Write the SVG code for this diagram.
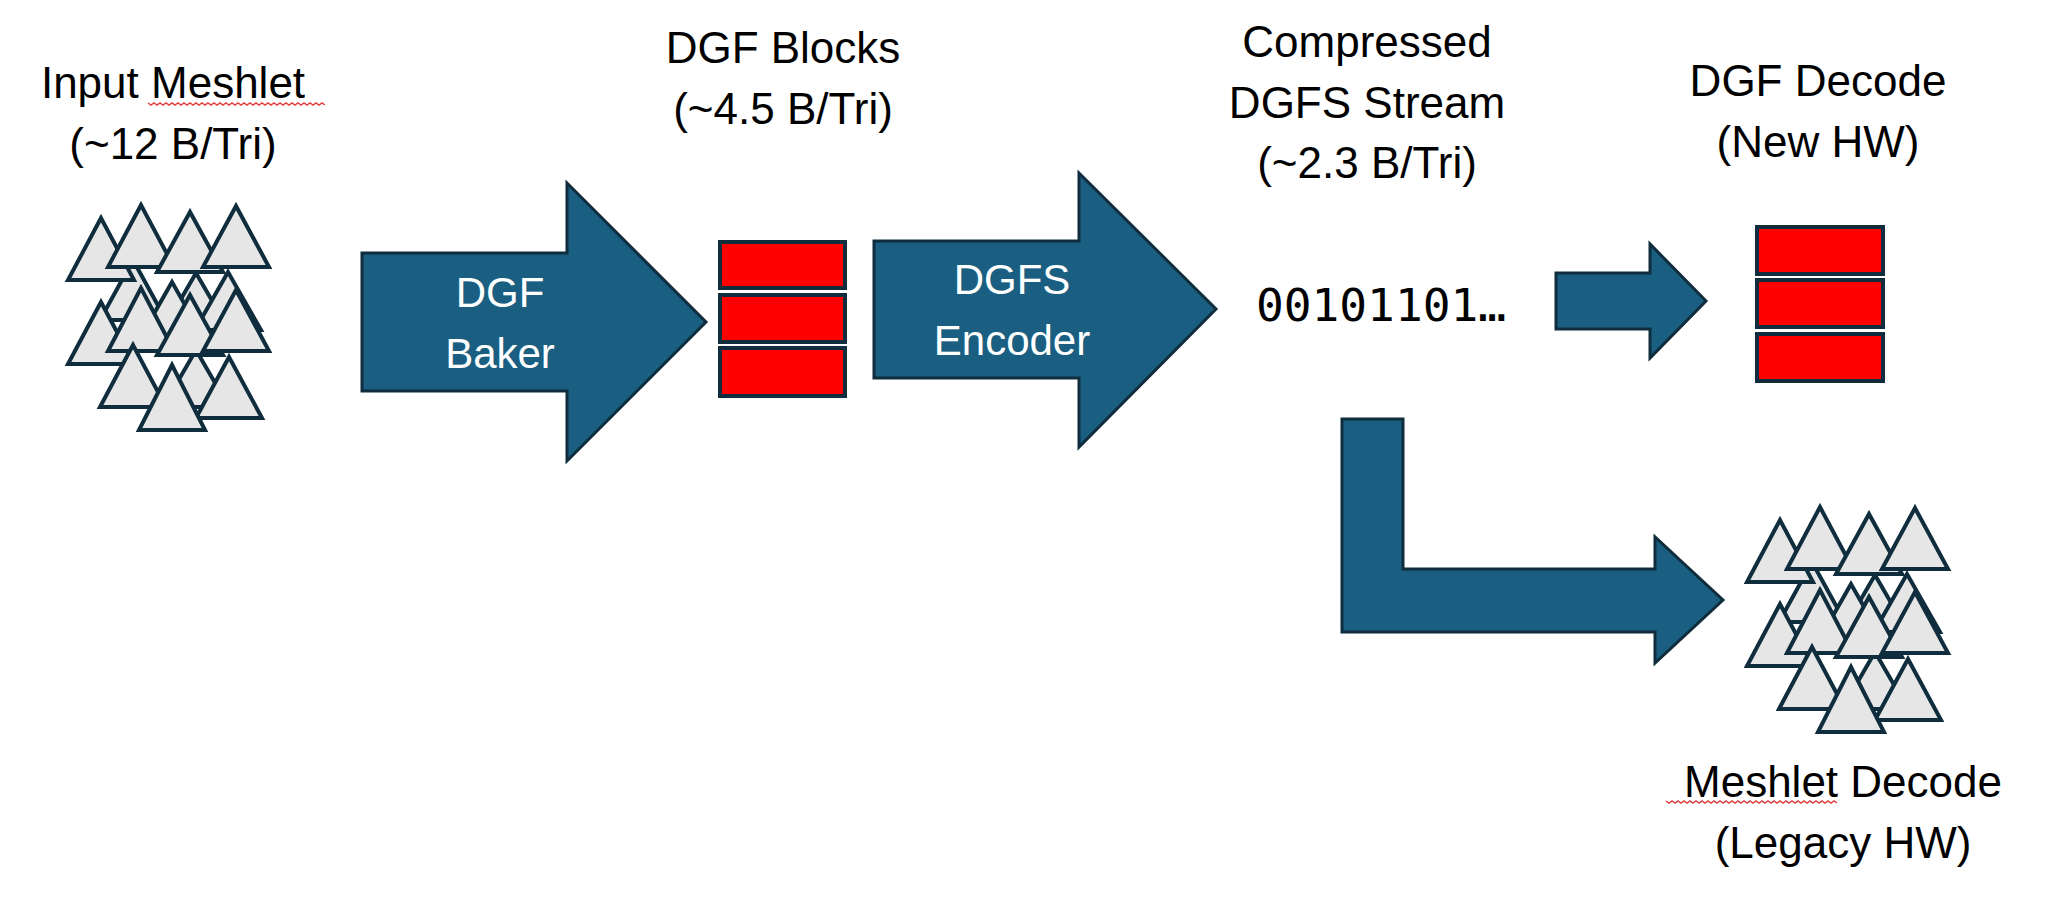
<svg xmlns="http://www.w3.org/2000/svg" xmlns:xlink="http://www.w3.org/1999/xlink" width="2071" height="905" viewBox="0 0 2071 905">
<style>
.lbl{font-family:"Liberation Sans",Arial,sans-serif;font-size:44px;fill:#000;text-anchor:middle}
.in{font-family:"Liberation Sans",Arial,sans-serif;font-size:42px;fill:#fff;text-anchor:middle}
.arr{fill:#1a5f82;stroke:#0f2d3d;stroke-width:3;stroke-linejoin:miter}
.tri{fill:#e6e6e6;stroke:#0f2d3d;stroke-width:4;stroke-linejoin:miter}
.blk{fill:#ff0000;stroke:#0f2d3d;stroke-width:4}
.sq{fill:none;stroke:#e04040;stroke-width:1.5}
</style>
<defs>
<g id="tris">
<polygon class="tri" points="65,55 32,115 98,115"/>
<polygon class="tri" points="128,68 95,125 161,125"/>
<polygon class="tri" points="160,67 127,125 193,125"/>
<polygon class="tri" points="104,77 71,135 137,135"/>
<polygon class="tri" points="128,145 95,202 161,202"/>
<polygon class="tri" points="33,13 0,75 66,75"/>
<polygon class="tri" points="73,0 40,62 106,62"/>
<polygon class="tri" points="122,7 89,67 155,67"/>
<polygon class="tri" points="168,1 135,62 201,62"/>
<polygon class="tri" points="33,97 0,159 66,159"/>
<polygon class="tri" points="73,83 40,146 106,146"/>
<polygon class="tri" points="122,90 89,150 155,150"/>
<polygon class="tri" points="168,85 135,146 201,146"/>
<polygon class="tri" points="65,140 32,202 98,202"/>
<polygon class="tri" points="161,152 128,213 194,213"/>
<polygon class="tri" points="104,160 71,225 137,225"/>
</g>
</defs>
<g id="connectors">
<polygon class="arr" points="362,253 567,253 567,183 706,322 567,461 567,391 362,391"/>
<polygon class="arr" points="874,241 1079,241 1079,173 1216,309 1079,447 1079,378 874,378"/>
<polygon class="arr" points="1556,273 1650,273 1650,244 1706,301 1650,358 1650,329 1556,329"/>
<polygon class="arr" points="1342,419 1403,419 1403,569 1655,569 1655,537 1723,600 1655,663 1655,632 1342,632"/>
</g>
<g id="input-meshlet">
<use xlink:href="#tris" transform="translate(68,205)"/>
<text class="lbl" x="173" y="98">Input Meshlet</text>
<text class="lbl" x="173" y="159">(~12 B/Tri)</text>
<path class="sq" d="M148,103 l3,2 l3,-2 l3,2 l3,-2 l3,2 l3,-2 l3,2 l3,-2 l3,2 l3,-2 l3,2 l3,-2 l3,2 l3,-2 l3,2 l3,-2 l3,2 l3,-2 l3,2 l3,-2 l3,2 l3,-2 l3,2 l3,-2 l3,2 l3,-2 l3,2 l3,-2 l3,2 l3,-2 l3,2 l3,-2 l3,2 l3,-2 l3,2 l3,-2 l3,2 l3,-2 l3,2 l3,-2 l3,2 l3,-2 l3,2 l3,-2 l3,2 l3,-2 l3,2 l3,-2 l3,2 l3,-2 l3,2 l3,-2 l3,2 l3,-2 l3,2 l3,-2 l3,2 l3,-2 l3,2"/>
</g>
<g id="dgf-baker">
<text class="in" x="500" y="307">DGF</text>
<text class="in" x="500" y="368">Baker</text>
</g>
<g id="dgf-blocks">
<rect class="blk" x="720" y="242" width="125" height="46"/>
<rect class="blk" x="720" y="295" width="125" height="47"/>
<rect class="blk" x="720" y="348" width="125" height="48"/>
<text class="lbl" x="783" y="63">DGF Blocks</text>
<text class="lbl" x="783" y="124">(~4.5 B/Tri)</text>
</g>
<g id="dgfs-encoder">
<text class="in" x="1012" y="294">DGFS</text>
<text class="in" x="1012" y="355">Encoder</text>
</g>
<g id="stream">
<text class="lbl" x="1367" y="57">Compressed</text>
<text class="lbl" x="1367" y="118">DGFS Stream</text>
<text class="lbl" x="1367" y="178">(~2.3 B/Tri)</text>
<text x="1256" y="321" style="font-family:'DejaVu Sans Mono',monospace;font-size:44px;fill:#000" textLength="250" lengthAdjust="spacingAndGlyphs">00101101…</text>
</g>
<g id="dgf-decode">
<rect class="blk" x="1757" y="227" width="126" height="47"/>
<rect class="blk" x="1757" y="280" width="126" height="47"/>
<rect class="blk" x="1757" y="334" width="126" height="47"/>
<text class="lbl" x="1818" y="96">DGF Decode</text>
<text class="lbl" x="1818" y="157">(New HW)</text>
</g>
<g id="meshlet-decode">
<use xlink:href="#tris" transform="translate(1747,507)"/>
<text class="lbl" x="1843" y="797">Meshlet Decode</text>
<text class="lbl" x="1843" y="858">(Legacy HW)</text>
<path class="sq" d="M1666,801 l3,2 l3,-2 l3,2 l3,-2 l3,2 l3,-2 l3,2 l3,-2 l3,2 l3,-2 l3,2 l3,-2 l3,2 l3,-2 l3,2 l3,-2 l3,2 l3,-2 l3,2 l3,-2 l3,2 l3,-2 l3,2 l3,-2 l3,2 l3,-2 l3,2 l3,-2 l3,2 l3,-2 l3,2 l3,-2 l3,2 l3,-2 l3,2 l3,-2 l3,2 l3,-2 l3,2 l3,-2 l3,2 l3,-2 l3,2 l3,-2 l3,2 l3,-2 l3,2 l3,-2 l3,2 l3,-2 l3,2 l3,-2 l3,2 l3,-2 l3,2 l3,-2 l3,2"/>
</g>
</svg>
